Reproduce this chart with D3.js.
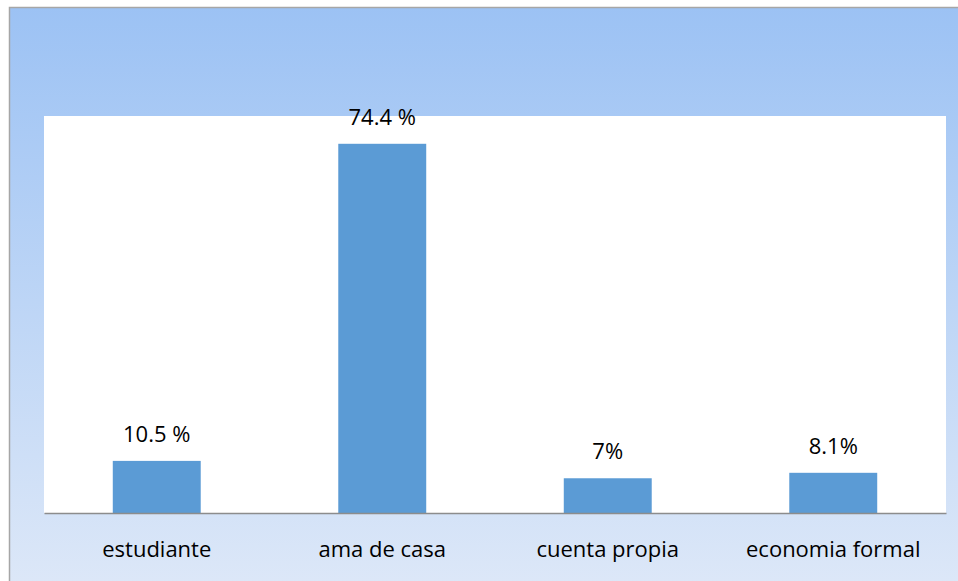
<!DOCTYPE html>
<html>
<head>
<meta charset="utf-8">
<script src="https://cdn.jsdelivr.net/npm/d3@7"></script>
<style>
  body { margin: 0; background: #ffffff; }
  svg { display: block; }
</style>
</head>
<body>
<div id="chart"></div>
<script>
// chart values
const categories = ["estudiante", "ama de casa", "cuenta propia", "economia formal"];
const values = [10.5, 74.4, 7, 8.1];
const valueLabels = ["10.5 %", "74.4 %", "7%", "8.1%"];

const W = 958, H = 581;
const plot = { left: 44, right: 946, top: 116, bottom: 513 };

const svg = d3.select("#chart")
  .append("svg")
  .attr("width", W)
  .attr("height", H);

// background gradient of the chart area
const grad = svg.append("defs")
  .append("linearGradient")
  .attr("id", "bg")
  .attr("x1", 0).attr("y1", 0)
  .attr("x2", 0).attr("y2", 1);
grad.append("stop").attr("offset", "0%").attr("stop-color", "#9cc2f4");
grad.append("stop").attr("offset", "100%").attr("stop-color", "#dfe9f8");

svg.append("rect")
  .attr("x", 9.5)
  .attr("y", 7.5)
  .attr("width", W + 20)
  .attr("height", H + 20)
  .attr("fill", "url(#bg)")
  .attr("stroke", "#a6a6a6")
  .attr("stroke-width", 1.5);

// white plot area
svg.append("rect")
  .attr("x", plot.left)
  .attr("y", plot.top)
  .attr("width", plot.right - plot.left)
  .attr("height", plot.bottom - plot.top)
  .attr("fill", "#ffffff");

const x = d3.scaleBand()
  .domain(categories)
  .range([plot.left, plot.right])
  .paddingInner(0.61)
  .paddingOuter(0.305);

const y = d3.scaleLinear()
  .domain([0, 80])
  .range([plot.bottom, plot.top]);

const data = categories.map((c, i) => ({ cat: c, value: values[i], label: valueLabels[i] }));

// bars
svg.selectAll(".bar")
  .data(data)
  .enter()
  .append("rect")
    .attr("class", "bar")
    .attr("x", d => x(d.cat))
    .attr("y", d => y(d.value))
    .attr("width", x.bandwidth())
    .attr("height", d => y(0) - y(d.value))
    .attr("fill", "#5b9bd5");

// value labels above the bars
svg.selectAll(".val")
  .data(data)
  .enter()
  .append("text")
    .attr("class", "val")
    .attr("x", d => x(d.cat) + x.bandwidth() / 2)
    .attr("y", d => y(d.value) - 19)
    .attr("text-anchor", "middle")
    .style("font-family", "'Open Sans', sans-serif")
    .style("font-size", "22px")
    .style("fill", "#000")
    .text(d => d.label);

// x axis, no ticks
const xAxis = svg.append("g")
  .attr("transform", `translate(0,${plot.bottom})`)
  .call(d3.axisBottom(x).tickSize(0).tickPadding(28));
xAxis.select(".domain")
  .attr("stroke", "#8c8c8c")
  .attr("stroke-width", 1.5);
xAxis.selectAll("text")
  .style("font-family", "'Open Sans', sans-serif")
  .style("font-size", "22px")
  .style("fill", "#000");
</script>
</body>
</html>
